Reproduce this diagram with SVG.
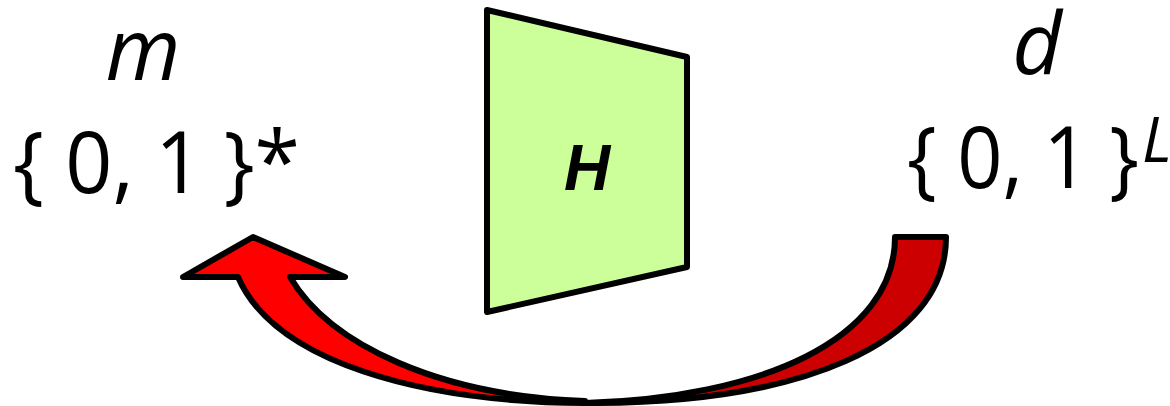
<svg xmlns="http://www.w3.org/2000/svg" width="1170" height="406" viewBox="0 0 1170 406">
<style>
.t{font-family:"Open Sans","Noto Sans",sans-serif;font-size:86px;fill:#000}
.i{font-style:italic}
.edge{stroke:#000;stroke-width:6;stroke-linejoin:round}
</style>
<rect width="1170" height="406" fill="#fff"/>
<g id="m-set">
<text class="t i" x="143" y="80" text-anchor="middle">m</text>
<text class="t" x="13" y="193" textLength="287" lengthAdjust="spacingAndGlyphs">{ 0, 1 }*</text>
</g>
<g id="d-set">
<text class="t i" x="1037" y="74" text-anchor="middle">d</text>
<text class="t" x="907" y="188" textLength="232" lengthAdjust="spacingAndGlyphs">{ 0, 1 }</text>
<text class="t i" x="1142" y="162" style="font-size:62px">L</text>
</g>
<g id="H">
<polygon class="edge" points="487,10 687,57 687,267 487,312" fill="#CCFF99"/>
<text x="587" y="190" text-anchor="middle" style="font-family:'Liberation Sans',Arial,sans-serif;font-weight:bold;font-style:italic;font-size:64px">H</text>
</g>
<g id="connectors">
<path class="edge" fill="#CC0000" d="M895,237 L946,237 C946,345 800,404 585,403 C760,398 895,340 895,237 Z"/>
<path class="edge" fill="#FF0000" d="M585,403 C420,402 275,362 238,277 L183,277 L253,237 L345,277 L290,277 C330,345 440,396 585,401 Z"/>
</g>
</svg>
